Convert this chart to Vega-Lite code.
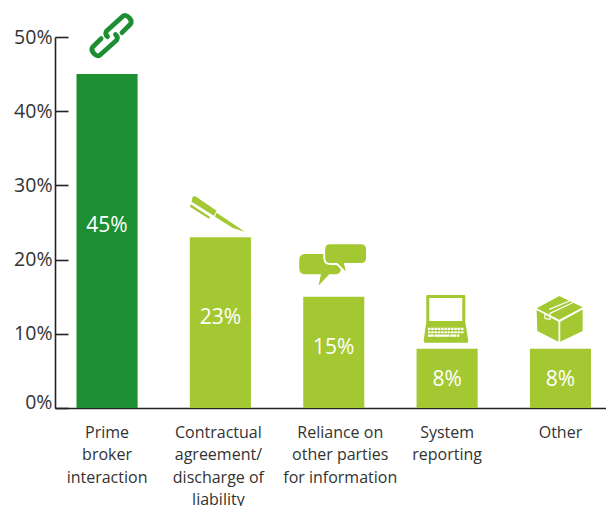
{
"$schema":"https://vega.github.io/schema/vega-lite/v6.json",
"width":551,"height":371,
"autosize":{"type":"none"},
"padding":{"left":55,"top":37,"right":0,"bottom":98},
"background":"white",
"config":{"view":{"stroke":null},"font":"Open Sans"},
"data":{"values":[
{"category":"Prime broker interaction","share":45,"label":"45%"},
{"category":"Contractual agreement/ discharge of liability","share":23,"label":"23%"},
{"category":"Reliance on other parties for information","share":15,"label":"15%"},
{"category":"System reporting","share":8,"label":"8%"},
{"category":"Other","share":8,"label":"8%"}
]},
"encoding":{
"x":{"field":"category","type":"nominal","sort":null,"title":null,
"scale":{"paddingInner":0.461,"paddingOuter":0.161,"align":0.589},
"axis":{"labelAngle":0,"ticks":false,"domainColor":"#222222","domainWidth":1.6,"labelFontSize":16,"labelColor":"#333333","labelPadding":16,"labelLineHeight":22.5,"labelLimit":200,"labelBaseline":"top","labelFont":"Open Sans",
"labelExpr":"datum.value=='Prime broker interaction'?['Prime','broker','interaction']:datum.value=='Contractual agreement/ discharge of liability'?['Contractual','agreement/','discharge of','liability']:datum.value=='Reliance on other parties for information'?['Reliance on','other parties','for information']:datum.value=='System reporting'?['System','reporting']:datum.value",
"encoding":{"labels":{"dx":{"value":{"expr":"datum.value=='Reliance on other parties for information'?6.5:datum.value=='Contractual agreement/ discharge of liability'?-2:0"}}}}}},
"y":{"field":"share","type":"quantitative","title":null,
"scale":{"domain":[0,50],"nice":false},
"axis":{"values":[0,10,20,30,40,50],"grid":false,"tickSize":-13,"tickWidth":1.6,"tickColor":"#222222","domainColor":"#222222","domainWidth":1.6,"labelFontSize":19.5,"labelColor":"#333333","labelPadding":16,"labelFont":"Open Sans","labelExpr":"datum.value+'%'",
"encoding":{"labels":{"dy":{"value":{"expr":"datum.value==0?-6:0"}}}}}}
},
"layer":[
{"mark":{"type":"bar"},
"encoding":{"color":{"field":"category","type":"nominal","legend":null,"scale":{"domain":["Prime broker interaction","Contractual agreement/ discharge of liability","Reliance on other parties for information","System reporting","Other"],"range":["#1d8f32","#a4c832","#a4c832","#a4c832","#a4c832"]}}}},
{"transform":[{"filter":"datum.share==45"}],
"mark":{"type":"text","color":"white","fontSize":21,"font":"Open Sans","baseline":"middle","yOffset":152},
"encoding":{"text":{"field":"label","type":"nominal"}}},
{"transform":[{"filter":"datum.share==23"}],
"mark":{"type":"text","color":"white","fontSize":21,"font":"Open Sans","baseline":"middle","yOffset":80.6},
"encoding":{"text":{"field":"label","type":"nominal"}}},
{"transform":[{"filter":"datum.share==15"}],
"mark":{"type":"text","color":"white","fontSize":21,"font":"Open Sans","baseline":"middle","yOffset":51},
"encoding":{"text":{"field":"label","type":"nominal"}}},
{"transform":[{"filter":"datum.share==8"}],
"mark":{"type":"text","color":"white","fontSize":21,"font":"Open Sans","baseline":"middle","yOffset":31.4},
"encoding":{"text":{"field":"label","type":"nominal"}}},
{"transform":[{"filter":"datum.category=='Prime broker interaction'"}],
"mark":{"type":"point","filled":false,"opacity":1,"size":4,"color":"#1d8f32","strokeWidth":4.8,"strokeCap":"round","xOffset":4.5,"yOffset":-38.5,
"shape":"M10.4 -3L18.7 -11.3Q21 -14 18 -17.5Q14.5 -21.5 11.7 -19.6L-5 -4.6Q-7 -1.5 -4 1M-10.4 3L-18.7 11.3Q-21 14 -18 17.5Q-14.5 21.5 -11.7 19.6L5 4.6Q7 1.5 4 -1"}},
{"transform":[{"filter":"datum.category=='Contractual agreement/ discharge of liability'"}],
"mark":{"type":"point","filled":true,"opacity":1,"size":4,"color":"#a4c832","strokeWidth":0,"xOffset":-3,"yOffset":-22.3,
"shape":"M-24.8 -18.3L-22 -18.7L-0.8 -4.3L-3.5 0.7L-25.8 -13.3ZM-0.8 -2.3L27.5 16.7L15.5 13L-2.5 1.7ZM-26.8 -10.7L-7.5 1.7L-8.2 4L-27.5 -8.3Z"}},
{"transform":[{"filter":"datum.category=='Reliance on other parties for information'"}],
"mark":{"type":"point","filled":true,"opacity":1,"size":4,"color":"#a4c832","strokeWidth":0,"yOffset":-31.7,
"shape":"M-28.5 -11H1.2Q7.2 -11 7.2 -5V3.3Q7.2 9.3 1.2 9.3H-4.5L-15.2 20.7L-12.8 9.3H-28.5Q-34.5 9.3 -34.5 3.3V-5Q-34.5 -11 -28.5 -11Z"}},
{"transform":[{"filter":"datum.category=='Reliance on other parties for information'"}],
"mark":{"type":"point","filled":true,"opacity":1,"size":4,"color":"#a4c832","stroke":"white","strokeWidth":1.8,"yOffset":-31.7,
"shape":"M-3.5 -21.7H27.2Q33.2 -21.7 33.2 -15.7V-7Q33.2 -1 27.2 -1H11.2L13.8 9.3L3.2 -1H-3.5Q-9.5 -1 -9.5 -7V-15.7Q-9.5 -21.7 -3.5 -21.7Z"}},
{"transform":[{"filter":"datum.category=='System reporting'"}],
"mark":{"type":"point","filled":true,"opacity":1,"size":4,"color":"#a4c832","strokeWidth":0,"xOffset":-1.5,"yOffset":-29.6,
"shape":"M-18 -24H18.5Q19.7 -24 19.7 -22.8V3L22.7 22Q22.7 23.7 21 23.7H-20.3Q-22 23.7 -22 22L-19.3 3V-22.8Q-19.3 -24 -18 -24ZM-16.3 -21V2H16.7V-21ZM-17.7 8.7v2.2h2.6v-2.2zm3.3 0v2.2h2.6v-2.2zm3.3 0v2.2h2.6v-2.2zm3.3 0v2.2h2.6v-2.2zm3.3 0v2.2h2.6v-2.2zm3.3 0v2.2h2.6v-2.2zm3.3 0v2.2h2.6v-2.2zm3.3 0v2.2h2.6v-2.2zm3.3 0v2.2h2.6v-2.2zm3.3 0v2.2h2.6v-2.2zm3.3 0v2.2h2.6v-2.2zM-17.7 12.1v2.2h2.6v-2.2zm3.3 0v2.2h2.6v-2.2zm3.3 0v2.2h2.6v-2.2zm3.3 0v2.2h2.6v-2.2zm3.3 0v2.2h2.6v-2.2zm3.3 0v2.2h2.6v-2.2zm3.3 0v2.2h2.6v-2.2zm3.3 0v2.2h2.6v-2.2zm3.3 0v2.2h2.6v-2.2zm3.3 0v2.2h2.6v-2.2zm3.3 0v2.2h2.6v-2.2zM-17.7 15.5v2.2h5.9v-2.2zm6.6 0v2.2h15v-2.2zm15.7 0v2.2h5.9v-2.2zm6.6 0v2.2h2.6v-2.2z"}},
{"transform":[{"filter":"datum.category=='Other'"}],
"mark":{"type":"point","filled":true,"opacity":1,"size":4,"color":"#a4c832","strokeWidth":0,"xOffset":-1,"yOffset":-29.6,
"shape":"M-0.2 -23L23.2 -11.7L-0.2 0.6L-22.8 -10.7ZM-22.8 -9L-1 2.8V22.7L-22.2 12ZM0.8 2.8L23.2 -9.5V12L0.8 22.7Z"}},
{"transform":[{"filter":"datum.category=='Other'"}],
"mark":{"type":"point","filled":false,"opacity":1,"size":4,"color":"white","strokeWidth":1.2,"xOffset":-1,"yOffset":-29.6,
"shape":"M-10.2 -9.7L10.5 -18.3M-9.5 -5.7L13.2 -16.3M-14.5 -5.7V-0.5L-9.5 0.3V-5.7"}}
]
}
